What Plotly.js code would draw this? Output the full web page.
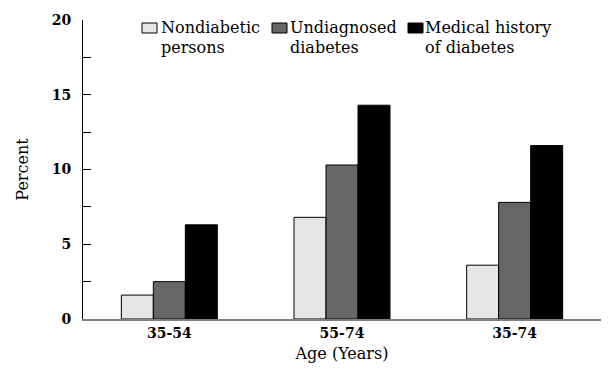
<!DOCTYPE html>
<html>
<head>
<meta charset="utf-8">
<script src="https://cdn.plot.ly/plotly-3.0.1.min.js"></script>
<style>html,body{margin:0;padding:0;background:#fff;}#chart{width:608px;height:374px;}</style>
</head>
<body>
<div id="chart"></div>
<script>
const categories = ["35-54", "55-74", "35-74"];
const seriesNames = [["Nondiabetic", "persons"], ["Undiagnosed", "diabetes"], ["Medical history", "of diabetes"]];
const nondiabetic = [1.6, 6.8, 3.6];
const undiagnosed = [2.5, 10.3, 7.8];
const medicalHistory = [6.3, 14.3, 11.6];
const colors = ["#e6e6e6", "#666666", "#000000"];
const yTicks = [0, 5, 10, 15, 20];

const font = "DejaVu Serif, serif";
const W = 608, H = 374, M = {l: 83, r: 7, t: 20, b: 55};
const pw = W - M.l - M.r, ph = H - M.t - M.b;
const px = x => (x - M.l) / pw;
const py = y => (H - M.b - y) / ph;

const data = [nondiabetic, undiagnosed, medicalHistory].map((vals, i) => ({
  type: "bar",
  x: categories,
  y: vals,
  name: seriesNames[i].join(" "),
  marker: {color: colors[i], line: {color: "#000", width: 1}},
  hoverinfo: "skip"
}));

// manual legend layout (positions in pixels)
const legBoxX = [142, 272, 408];
const legTextX = [159, 288, 423];
const shapes = [], annotations = [];
seriesNames.forEach((lines, i) => {
  shapes.push({type: "rect", xref: "paper", yref: "paper",
    x0: px(legBoxX[i]), x1: px(legBoxX[i] + 15), y0: py(33), y1: py(23),
    fillcolor: colors[i], line: {color: "#000", width: 1}});
  lines.forEach((ln, j) => {
    annotations.push({xref: "paper", yref: "paper", x: px(legTextX[i]), y: py(28 + j * 19.5),
      xanchor: "left", yanchor: "middle", text: ln, showarrow: false,
      font: {family: font, size: 16, color: "#000"}});
  });
});

const layout = {
  width: W, height: H,
  margin: M,
  paper_bgcolor: "#fff", plot_bgcolor: "#fff",
  font: {family: font, color: "#000", size: 16},
  barmode: "group", bargap: 0.444, bargroupgap: 0,
  showlegend: false,
  shapes: shapes, annotations: annotations,
  xaxis: {
    type: "category", range: [-0.5, 2.5],
    showline: true, linecolor: "#808080", linewidth: 2,
    ticks: "", showgrid: false, zeroline: false,
    tickfont: {family: font, size: 14, weight: "bold"},
    title: {text: "Age (Years)", font: {family: font, size: 16}, standoff: 8}
  },
  yaxis: {
    range: [0, 20], tickvals: yTicks, ticktext: yTicks.map(String),
    showline: true, linecolor: "#000", linewidth: 1,
    ticks: "inside", ticklen: 8, tickcolor: "#000",
    minor: {dtick: 2.5, tick0: 0, ticks: "inside", ticklen: 8, tickcolor: "#000"},
    showgrid: false, zeroline: false,
    tickfont: {family: font, size: 14, weight: "bold"},
    ticklabelstandoff: 8,
    title: {text: "Percent", font: {family: font, size: 16}, standoff: 19}
  }
};
Plotly.newPlot("chart", data, layout, {staticPlot: true, displayModeBar: false});
</script>
</body>
</html>
